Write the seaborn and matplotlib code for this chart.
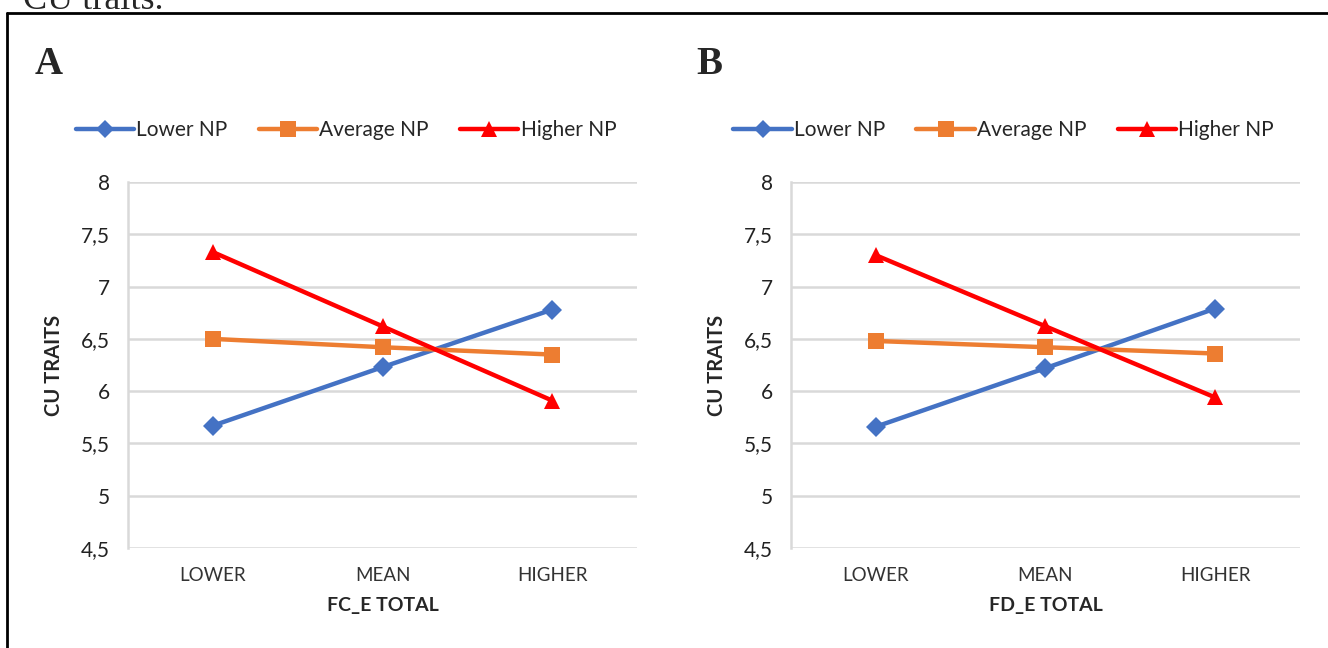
import numpy as np
import pandas as pd
import seaborn as sns
import matplotlib.pyplot as plt
from matplotlib.lines import Line2D

levels = ['LOWER', 'MEAN', 'HIGHER']
groups = ['Lower NP', 'Average NP', 'Higher NP']

# panel A: FC_E total
a_lower = [5.67, 6.23, 6.78]
a_average = [6.50, 6.42, 6.35]
a_higher = [7.33, 6.62, 5.91]

# panel B: FD_E total
b_lower = [5.66, 6.22, 6.79]
b_average = [6.48, 6.42, 6.36]
b_higher = [7.30, 6.62, 5.94]

yticks = [4.5, 5, 5.5, 6, 6.5, 7, 7.5, 8]
ytick_labels = ['4,5', '5', '5,5', '6', '6,5', '7', '7,5', '8']

colors = {'Lower NP': '#4472C4', 'Average NP': '#ED7D31', 'Higher NP': '#FF0000'}
markers = {'Lower NP': 'D', 'Average NP': 's', 'Higher NP': '^'}
msizes = {'Lower NP': 10, 'Average NP': 12, 'Higher NP': 12}


def make_df(lo, av, hi):
    rows = []
    for g, vals in zip(groups, [lo, av, hi]):
        for lev, v in zip(levels, vals):
            rows.append({'level': lev, 'cu': v, 'group': g})
    return pd.DataFrame(rows)


sns.set_style('white')
plt.rcParams['font.family'] = ['Lato', 'DejaVu Sans']

fig = plt.figure(figsize=(13.28, 6.48), dpi=100)

panels = [
    (0.0964, make_df(a_lower, a_average, a_higher), 'FC_E TOTAL', 'A', 0.026, 0.051),
    (0.5956, make_df(b_lower, b_average, b_higher), 'FD_E TOTAL', 'B', 0.524, 0.546),
]

for left, df, xlabel, tag, tagx, legx in panels:
    ax = fig.add_axes([left, 0.1543, 0.3833, 0.5648])
    for g in groups:
        sub = df[df['group'] == g]
        sns.lineplot(data=sub, x='level', y='cu', color=colors[g], marker=markers[g],
                     markersize=msizes[g], markeredgewidth=0, linewidth=3.2,
                     ax=ax, label=g, legend=False, sort=False)
    ax.set_xlim(-0.5, 2.5)
    ax.set_ylim(4.5, 8)
    ax.set_yticks(yticks)
    ax.set_yticklabels(ytick_labels, fontsize=15, color='#222222')
    ax.set_xticks(range(len(levels)))
    ax.set_xticklabels(levels, fontsize=13.5, color='#333333')
    ax.tick_params(axis='y', length=0, pad=13)
    ax.tick_params(axis='x', length=0, pad=14)
    ax.yaxis.grid(True, color='#d9d9d9', linewidth=1.8)
    ax.xaxis.grid(False)
    ax.set_axisbelow(True)
    for s in ['top', 'right', 'bottom']:
        ax.spines[s].set_visible(False)
    ax.spines['left'].set_color('#d9d9d9')
    ax.spines['left'].set_linewidth(1.8)
    ax.set_ylabel('CU TRAITS', fontsize=14.5, fontweight='bold', labelpad=12)
    ax.set_xlabel(xlabel, fontsize=14, fontweight='bold', labelpad=9)

    handles = [Line2D([0], [0], color=colors[g], marker=markers[g], markersize=msizes[g] - 1,
                      markeredgewidth=0, linewidth=3.2) for g in groups]
    fig.legend(handles, groups, loc='center left', bbox_to_anchor=(legx, 1 - 130 / 648),
               ncol=3, frameon=False, fontsize=15, handlelength=2.8, handletextpad=0.1,
               columnspacing=1.5, borderaxespad=0)

    fig.text(tagx, 1 - 64 / 648, tag, fontsize=28, fontweight='bold',
             family='Liberation Serif', va='center', ha='left')

# caption fragment cut at the top of the page
fig.text(0.017, 1 - 9 / 648, 'CU traits.', fontsize=26, family='Liberation Serif',
         va='baseline', ha='left')

# frame
fig.add_artist(Line2D([7 / 1328, 1.0], [1 - 13 / 648, 1 - 13 / 648], color='black',
                      linewidth=2, transform=fig.transFigure))
fig.add_artist(Line2D([7 / 1328, 7 / 1328], [0, 1 - 13 / 648], color='black',
                      linewidth=2, transform=fig.transFigure))

fig.savefig('out.png', dpi=100)
